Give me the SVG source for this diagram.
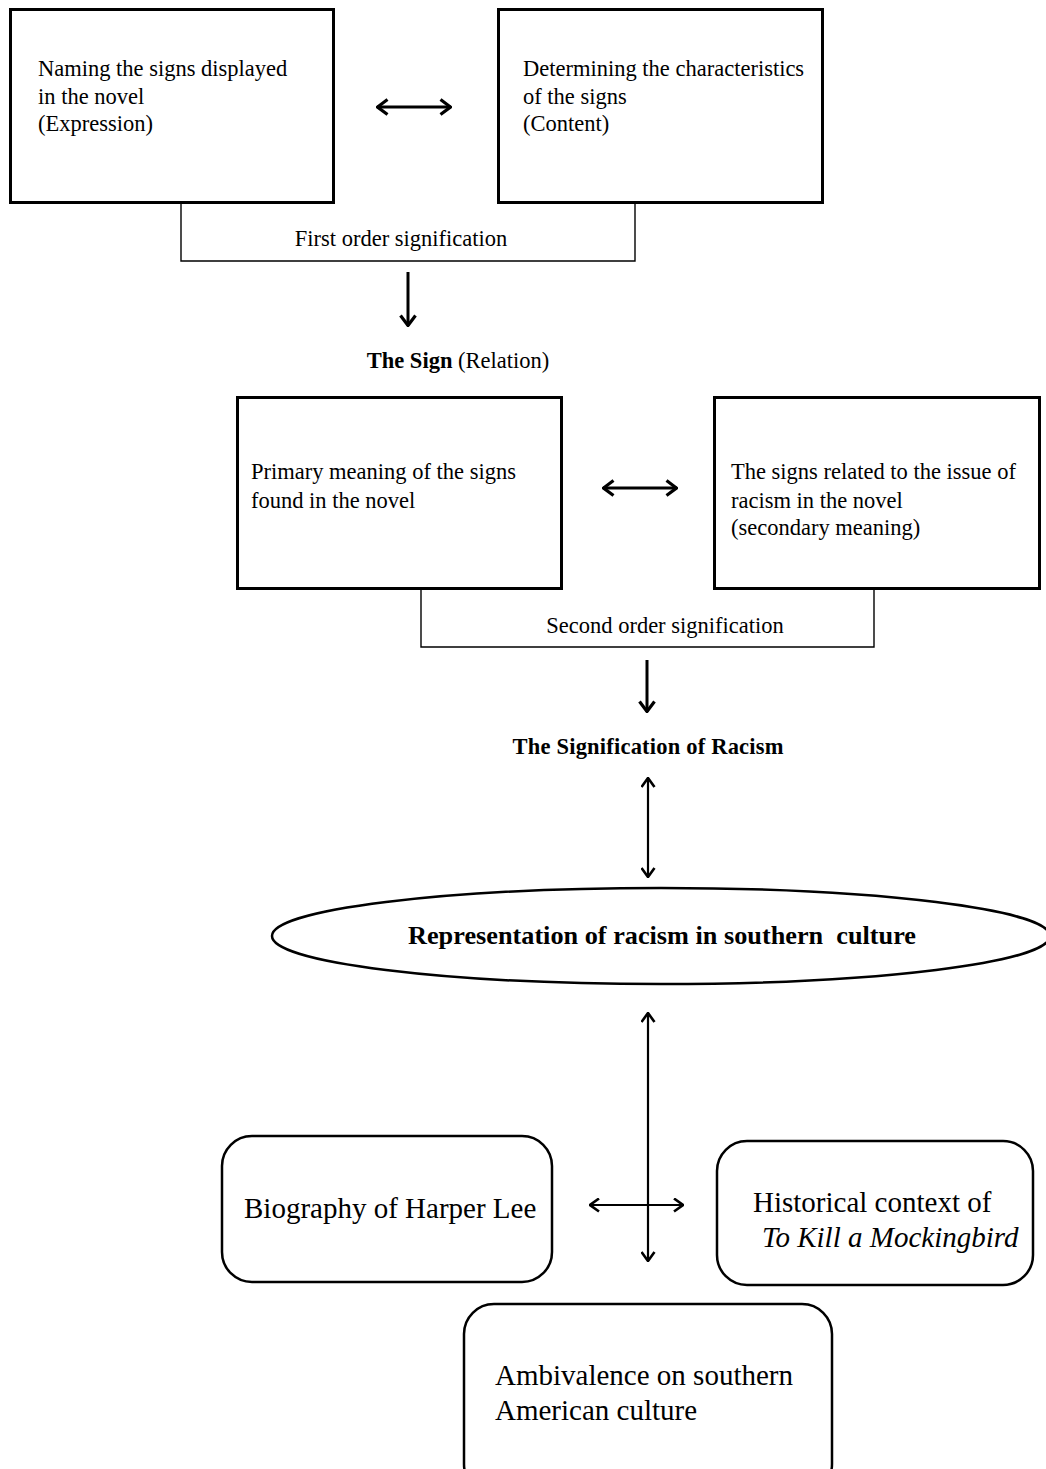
<svg xmlns="http://www.w3.org/2000/svg" width="1046" height="1469" viewBox="0 0 1046 1469">
<style>
.box{fill:#fff;stroke:#000;stroke-width:3}
.rbox{fill:#fff;stroke:#000;stroke-width:2.5}
.br{fill:none;stroke:#000;stroke-width:1.4}
.t{font-family:"Liberation Serif","Times New Roman",serif;font-size:22.5px;fill:#000}
.b{font-weight:bold}
.big{font-family:"Liberation Serif","Times New Roman",serif;font-size:29px;fill:#000}
.a3{fill:none;stroke:#000;stroke-width:3}
.a2{fill:none;stroke:#000;stroke-width:2.2}
</style>
<defs>
<marker id="h3" viewBox="0 0 13 18" refX="12" refY="9" markerWidth="13" markerHeight="18" markerUnits="userSpaceOnUse" orient="auto-start-reverse">
<path d="M1.5,1.5 L11.5,9 L1.5,16.5" fill="none" stroke="#000" stroke-width="3.2"/>
</marker>
<marker id="h2" viewBox="0 0 11 15" refX="10" refY="7.5" markerWidth="11" markerHeight="15" markerUnits="userSpaceOnUse" orient="auto-start-reverse">
<path d="M1,1 L10,7.5 L1,14" fill="none" stroke="#000" stroke-width="2.6"/>
</marker>
</defs>

<g id="connectors">
<path class="br" d="M181,203 V261 H635 V203"/>
<line class="a3" x1="377" y1="107" x2="451" y2="107" marker-start="url(#h3)" marker-end="url(#h3)"/>
<line class="a3" x1="408" y1="272" x2="408" y2="326" marker-end="url(#h3)"/>
<path class="br" d="M421,589 V647 H874 V589"/>
<line class="a3" x1="603" y1="488" x2="677" y2="488" marker-start="url(#h3)" marker-end="url(#h3)"/>
<line class="a3" x1="647" y1="660" x2="647" y2="712" marker-end="url(#h3)"/>
<line class="a2" x1="648" y1="778" x2="648" y2="877" marker-start="url(#h2)" marker-end="url(#h2)"/>
<line class="a2" x1="648" y1="1013" x2="648" y2="1261" marker-start="url(#h2)" marker-end="url(#h2)"/>
<line class="a2" x1="590" y1="1205" x2="683" y2="1205" marker-start="url(#h2)" marker-end="url(#h2)"/>
</g>

<g id="first-order-label">
<text class="t" x="401" y="246" text-anchor="middle">First order signification</text>
</g>

<g id="node-expression">
<rect class="box" x="10.5" y="9.5" width="323" height="193"/>
<text class="t" x="38" y="76">Naming the signs displayed</text>
<text class="t" x="38" y="104">in the novel</text>
<text class="t" x="38" y="131">(Expression)</text>
</g>

<g id="node-content">
<rect class="box" x="498.5" y="9.5" width="324" height="193"/>
<text class="t" x="523" y="76">Determining the characteristics</text>
<text class="t" x="523" y="104">of the signs</text>
<text class="t" x="523" y="131">(Content)</text>
</g>

<g id="node-sign">
<text class="t" x="458" y="368" text-anchor="middle"><tspan class="b">The Sign</tspan> (Relation)</text>
</g>

<g id="node-primary">
<rect class="box" x="237.5" y="397.5" width="324" height="191"/>
<text class="t" x="251" y="479">Primary meaning of the signs</text>
<text class="t" x="251" y="508">found in the novel</text>
</g>

<g id="node-secondary">
<rect class="box" x="714.5" y="397.5" width="325" height="191"/>
<text class="t" x="731" y="479">The signs related to the issue of</text>
<text class="t" x="731" y="508">racism in the novel</text>
<text class="t" x="731" y="535">(secondary meaning)</text>
</g>

<g id="second-order-label">
<text class="t" x="665" y="633" text-anchor="middle">Second order signification</text>
</g>

<g id="node-signification">
<text class="t b" x="648" y="754" text-anchor="middle" textLength="271">The Signification of Racism</text>
</g>

<g id="node-representation">
<ellipse cx="661" cy="936" rx="389" ry="48" fill="#fff" stroke="#000" stroke-width="2.5"/>
<text class="t b" x="408" y="944" style="font-size:25px;white-space:pre" textLength="508" lengthAdjust="spacingAndGlyphs">Representation of racism in southern  culture</text>
</g>

<g id="node-biography">
<rect class="rbox" x="222" y="1136" width="330" height="146" rx="30"/>
<text class="big" x="244" y="1218">Biography of Harper Lee</text>
</g>

<g id="node-historical">
<rect class="rbox" x="717" y="1141" width="316" height="144" rx="30"/>
<text class="big" x="753" y="1212">Historical context of</text>
<text class="big" x="762" y="1247" font-style="italic">To Kill a Mockingbird</text>
</g>

<g id="node-ambivalence">
<rect class="rbox" x="464" y="1304" width="368" height="190" rx="30"/>
<text class="big" x="495" y="1385">Ambivalence on southern</text>
<text class="big" x="495" y="1420">American culture</text>
</g>
</svg>
